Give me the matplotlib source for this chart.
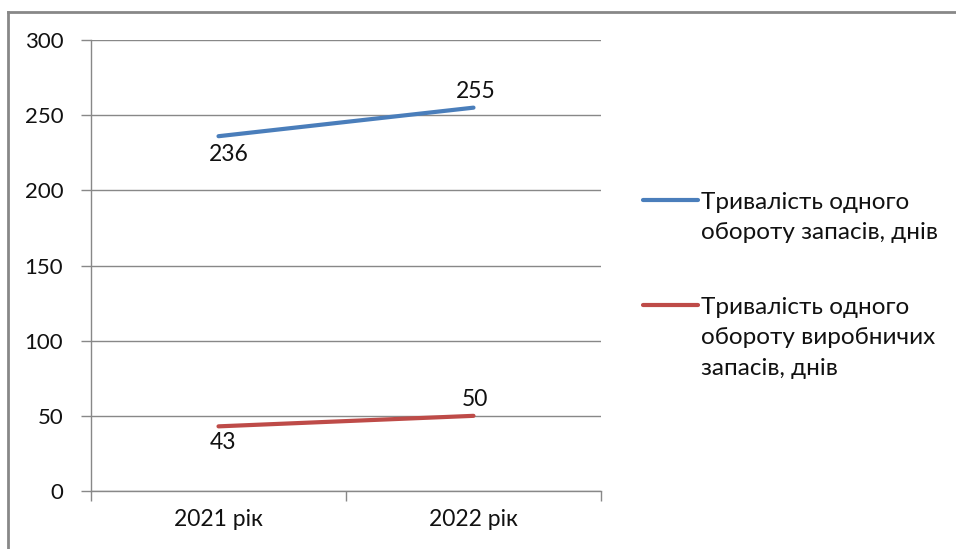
import matplotlib
matplotlib.use("Agg")
import matplotlib.pyplot as plt
from matplotlib.lines import Line2D

categories = ["2021 рік", "2022 рік"]
series_names = ["Тривалість одного\nобороту запасів, днів",
                "Тривалість одного\nобороту виробничих\nзапасів, днів"]
inventory_days = [236, 255]
production_days = [43, 50]
yticks = [0, 50, 100, 150, 200, 250, 300]

plt.rcParams['font.family'] = ['Lato', 'DejaVu Sans']

fig = plt.figure(figsize=(9.56, 5.49), dpi=100)
ax = fig.add_axes([91/956, 1-491/549, 510/956, 451/549])

x = [0.5, 1.5]
l1, = ax.plot(x, inventory_days, color='#4A7EBB', lw=3, solid_capstyle='round')
l2, = ax.plot(x, production_days, color='#BE4B48', lw=3, solid_capstyle='round')

ax.set_xlim(0, 2)
ax.set_ylim(0, 300)
ax.set_yticks(yticks)
ax.set_yticklabels([str(v) for v in yticks], fontsize=16, color='#111111')
ax.set_xticks([0, 1, 2])
ax.set_xticklabels([])
ax.set_xticks(x, minor=True)
ax.set_xticklabels(categories, minor=True, fontsize=16.5, color='#111111')
ax.tick_params(axis='x', which='minor', length=0, pad=13)
ax.tick_params(axis='x', which='major', length=7, color='#888888', width=1)
ax.tick_params(axis='y', length=7, color='#888888', width=1, pad=13)
ax.grid(axis='y', color='#888888', lw=1)
ax.set_axisbelow(True)
for s in ['top', 'right']:
    ax.spines[s].set_visible(False)
for s in ['left', 'bottom']:
    ax.spines[s].set_color('#888888')
    ax.spines[s].set_linewidth(1)

# data labels
lab_fs = 16.5
ax.annotate(str(inventory_days[0]), (x[0], inventory_days[0]), xytext=(10, -18),
            textcoords='offset pixels', ha='center', va='center', fontsize=lab_fs, color='#111111')
ax.annotate(str(inventory_days[1]), (x[1], inventory_days[1]), xytext=(2, 16),
            textcoords='offset pixels', ha='center', va='center', fontsize=lab_fs, color='#111111')
ax.annotate(str(production_days[0]), (x[0], production_days[0]), xytext=(4, -16),
            textcoords='offset pixels', ha='center', va='center', fontsize=lab_fs, color='#111111')
ax.annotate(str(production_days[1]), (x[1], production_days[1]), xytext=(1, 16),
            textcoords='offset pixels', ha='center', va='center', fontsize=lab_fs, color='#111111')

# legend drawn manually
W, H = 956, 549
def fx(px): return px / W
def fy(py): return 1 - py / H
leg_items = [(l1, series_names[0], 200), (l2, series_names[1], 305)]
for line, name, ycen in leg_items:
    fig.add_artist(Line2D([fx(643), fx(698)], [fy(ycen), fy(ycen)],
                          color=line.get_color(), lw=3, solid_capstyle='round'))
    fig.text(fx(701), fy(ycen - 8), name, fontsize=17.5, color='#111111',
             ha='left', va='top', linespacing=1.55)

# outer frame (left and top visible)
fig.add_artist(Line2D([fx(8), fx(8)], [fy(12), 0], color='#888888', lw=2))
fig.add_artist(Line2D([fx(8), 1], [fy(12), fy(12)], color='#888888', lw=2))

fig.savefig("out.png", dpi=100)
